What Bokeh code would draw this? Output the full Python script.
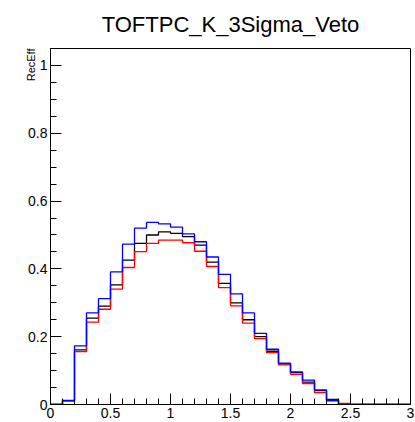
import math
from bokeh.plotting import figure
from bokeh.models import FixedTicker, Title
from bokeh.embed import file_html
from bokeh.resources import INLINE

title_text = "TOFTPC_K_3Sigma_Veto"
y_label = "RecEff"

bin_edges = [round(0.1 * i, 1) for i in range(31)]

black_vals = [0, 0.011, 0.161, 0.255, 0.290, 0.353, 0.426, 0.475, 0.500, 0.509,
              0.505, 0.495, 0.470, 0.420, 0.357, 0.300, 0.250, 0.200, 0.157, 0.120,
              0.094, 0.066, 0.041, 0.015, 0.001, 0, 0, 0, 0, 0]
red_vals = [0, 0.011, 0.156, 0.243, 0.281, 0.340, 0.404, 0.451, 0.475, 0.485,
            0.485, 0.477, 0.452, 0.407, 0.345, 0.291, 0.240, 0.194, 0.153, 0.117,
            0.089, 0.062, 0.035, 0.012, 0.003, 0, 0, 0, 0, 0]
blue_vals = [0, 0.012, 0.173, 0.270, 0.312, 0.391, 0.473, 0.520, 0.537, 0.533,
             0.523, 0.503, 0.480, 0.435, 0.384, 0.326, 0.270, 0.210, 0.163, 0.122,
             0.096, 0.072, 0.043, 0.011, 0, 0, 0, 0, 0, 0]

x_ticks = [0, 0.5, 1, 1.5, 2, 2.5, 3]
x_tick_labels = ["0", "0.5", "1", "1.5", "2", "2.5", "3"]
y_ticks = [0, 0.2, 0.4, 0.6, 0.8, 1.0]
y_tick_labels = ["0", "0.2", "0.4", "0.6", "0.8", "1"]
x_minor = [round(0.1 * i, 1) for i in range(31)]
y_minor = [round(0.05 * i, 2) for i in range(22)]

FONT = "Liberation Sans"

p = figure(width=415, height=422, x_range=(0, 3), y_range=(0, 1.05),
           output_backend="svg", toolbar_location=None,
           min_border_left=50, min_border_right=5, min_border_top=48, min_border_bottom=18)
p.xgrid.visible = False
p.ygrid.visible = False
p.outline_line_color = "black"
p.outline_line_width = 1
p.background_fill_color = "white"
p.border_fill_color = "white"

for ax in (p.xaxis[0], p.yaxis[0]):
    ax.axis_line_color = "black"
    ax.major_tick_in = 11
    ax.major_tick_out = 0
    ax.minor_tick_in = 6
    ax.minor_tick_out = 0
    ax.major_tick_line_color = "black"
    ax.minor_tick_line_color = "black"
    ax.major_label_text_font = FONT
    ax.major_label_text_font_size = "14px"
    ax.major_label_text_color = "black"
    ax.major_label_standoff = 3

p.xaxis[0].ticker = FixedTicker(ticks=x_ticks, minor_ticks=x_minor)
p.yaxis[0].ticker = FixedTicker(ticks=y_ticks, minor_ticks=y_minor)
p.xaxis[0].major_label_overrides = {t: l for t, l in zip(x_ticks, x_tick_labels)}
p.yaxis[0].major_label_overrides = {t: l for t, l in zip(y_ticks, y_tick_labels)}

step_x = bin_edges
for vals, col in ((black_vals, "black"), (red_vals, "red"), (blue_vals, "blue")):
    p.step(x=step_x, y=vals + [vals[-1]], mode="after", line_color=col, line_width=1.3)

p.title.text = title_text
p.title.align = "center"
p.title.vertical_align = "top"
p.title.text_font = FONT
p.title.text_font_size = "22px"
p.title.text_font_style = "normal"
p.title.text_color = "black"
p.title.standoff = 20

p.add_layout(Title(text=y_label, align="right", text_font=FONT, text_font_size="11px",
                   text_font_style="normal", text_color="black", standoff=-22), "left")

open("out.html", "w").write(file_html(p, INLINE))
